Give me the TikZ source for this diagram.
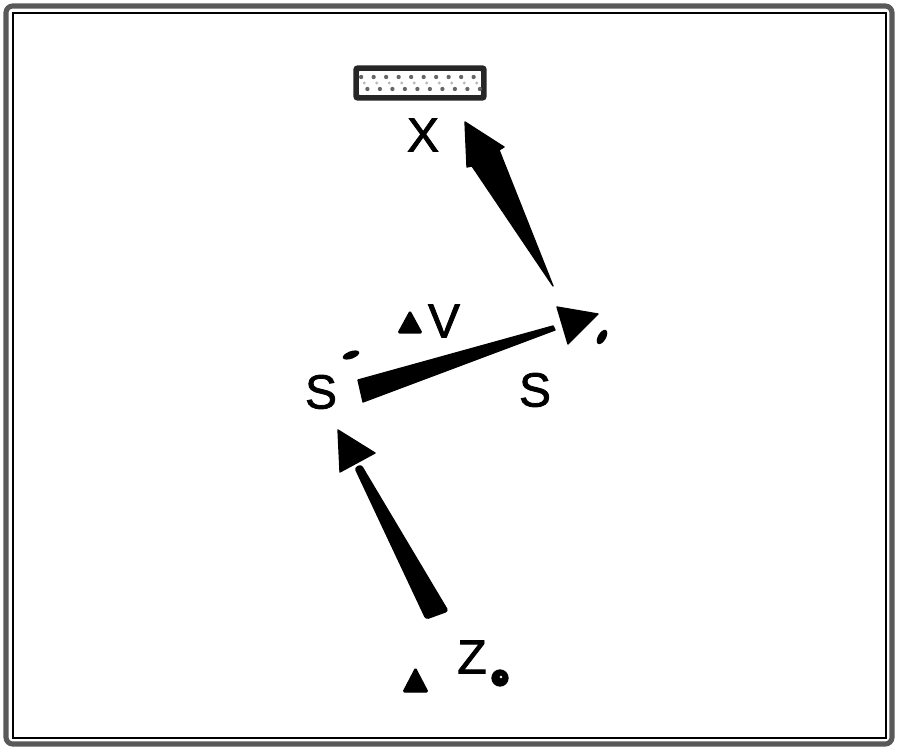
\documentclass[tikz,border=0pt]{standalone}
\usepackage{fontspec}
\setmainfont{Liberation Sans}
\newfontfamily\lblfont[FakeBold=1.6]{Liberation Sans}
\usetikzlibrary{patterns,calc}
\begin{document}
\begin{tikzpicture}[x=0.75pt,y=-0.75pt]
\tikzset{
  lbl/.style={font=\lblfont\fontsize{36}{38}\selectfont, inner sep=0pt},
  wedge/.style={fill=black, draw=black, line width=1pt, line join=round},
  marker/.style={fill=black, draw=black, line width=0.8pt, line join=round, rounded corners=1pt},
  blob/.style={fill=black},
  dotmark/.style={fill=gray!80!black},
  boxframe/.style={draw=black!85, line width=2.8pt, rounded corners=2pt}
}
\useasboundingbox (0,0) rectangle (900,752);
% frame
\draw[gray!70!black, line width=3.8pt, rounded corners=5pt] (6,6) rectangle (892,744);
\draw[black, line width=0.9pt] (13,13) rectangle (886,738);
% patterned box
\node[boxframe, fill=white, minimum width=94.5pt, minimum height=21pt, inner sep=0pt] (box) at (420,83) {};
\begin{scope}
  \clip (box.south west) rectangle (box.north east);
  \foreach \i in {0,...,10} {
    \fill[dotmark] ($(box.west)+(6+\i*12.5,-6)$) circle [radius=1.6pt];
    \fill[dotmark] ($(box.west)+(12.25+\i*12.5,6)$) circle [radius=1.6pt];
    \fill[gray!55] ($(box.west)+(9.1+\i*12.5,0)$) circle [radius=1.2pt];
  }
\end{scope}
\draw[boxframe] (box.south west) rectangle (box.north east);
% labels
\node[lbl] (X) at (423,135) {X};
\node[lbl] (V) at (444,321) {V};
\node[lbl] (S1) at (321,392) {S};
\node[lbl] (S2) at (535,390) {S};
\node[lbl] (Z) at (472,657) {Z};
% arrow 1 : towards X
\coordinate (a1t) at (553,286);
\coordinate (a1l) at (472,166);
\coordinate (a1r) at (499,150);
\coordinate (a1p) at (465,122);
\coordinate (a1b) at (467,167);
\coordinate (a1c) at (504,147);
\draw[wedge] (a1t) -- (a1r) -- (a1c) -- (a1p) -- (a1b) -- (a1l) -- cycle;
% arrow 2 : left S to right S
\coordinate (a2lt) at (358,380);
\coordinate (a2lb) at (363,402);
\coordinate (a2rt) at (553,326);
\coordinate (a2rb) at (555,330);
\draw[wedge] (a2lt) -- (a2rt) -- (a2rb) -- (a2lb) -- cycle;
\coordinate (a2h1) at (557,307);
\coordinate (a2h2) at (598,314);
\coordinate (a2h3) at (568,344);
\draw[wedge] (a2h1) -- (a2h2) -- (a2h3) -- cycle;
% arrow 3 : up to left S
\coordinate (a3p) at (338,430);
\coordinate (a3b) at (340,472);
\coordinate (a3c) at (375,453);
\draw[wedge] (a3p) -- (a3c) -- (a3b) -- cycle;
\coordinate (a3n1) at (355,468);
\coordinate (a3n2) at (361,465);
\coordinate (a3t1) at (426,619);
\coordinate (a3t2) at (448,611);
\draw[wedge, rounded corners=2pt] (a3n1) -- (a3n2) -- (a3t2) -- (a3t1) -- cycle;
% small blobs
\fill[blob] (351,355) ellipse [x radius=6.5pt, y radius=2.8pt, rotate=20];
\fill[blob] (602,337) ellipse [x radius=6pt, y radius=3pt, rotate=60];
% triangle markers
\draw[marker] (398,333) -- (422,333) -- (410,311) -- cycle;
\draw[marker] (403,692) -- (428,692) -- (415.5,668) -- cycle;
% small circle
\fill[black] (500,678) circle [radius=6.5pt];
\fill[white] (501,677) circle [radius=1pt];
\end{tikzpicture}
\end{document}
